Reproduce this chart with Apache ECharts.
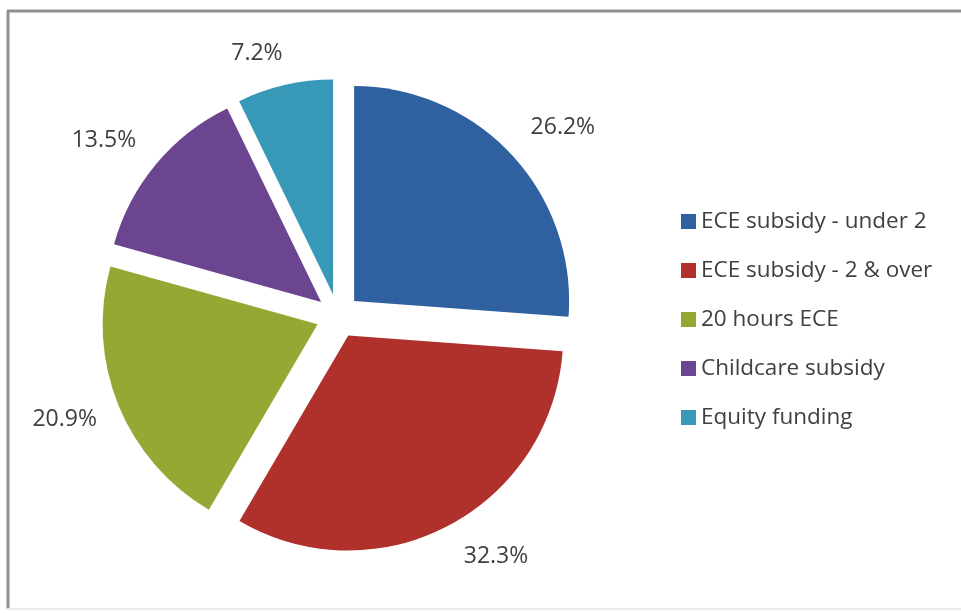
<!DOCTYPE html>
<html>
<head>
<meta charset="utf-8">
<script src="https://cdn.jsdelivr.net/npm/echarts@6/dist/echarts.min.js"></script>
<style>html,body{margin:0;padding:0;background:#fff;}#c{width:961px;height:613px;}</style>
</head>
<body>
<div id="c"></div>
<script>
var categories = ['ECE subsidy - under 2', 'ECE subsidy - 2 & over', '20 hours ECE', 'Childcare subsidy', 'Equity funding'];
var values = [26.2, 32.3, 20.9, 13.5, 7.2];
var colors = ['#2f60a0', '#b0302c', '#93a934', '#6b4590', '#3798b8'];
// small per-label nudges (styling) to mimic the original label placement
var labelNudge = [[12, 9], [23, -17], [-4, -6], [-11, 11], [-16, 21]];

var chart = echarts.init(document.getElementById('c'), null, {renderer: 'canvas'});
var mainData = categories.map(function (n, i) {
  return {name: n, value: values[i], selected: true};
});
var labelData = categories.map(function (n, i) {
  return {name: n, value: values[i]};
});
var FONT = '"Open Sans", sans-serif';
chart.setOption({
  animation: false,
  backgroundColor: '#ffffff',
  color: colors,
  graphic: [
    {type: 'line', shape: {x1: 8, y1: 11, x2: 8, y2: 609}, style: {stroke: '#8f8f8f', lineWidth: 3}},
    {type: 'line', shape: {x1: 7, y1: 11, x2: 961, y2: 11}, style: {stroke: '#8f8f8f', lineWidth: 3}},
    {type: 'line', shape: {x1: 7, y1: 609, x2: 961, y2: 609}, style: {stroke: '#ececec', lineWidth: 2}}
  ],
  legend: {
    orient: 'vertical',
    left: 681,
    top: 210,
    padding: 0,
    data: categories,
    itemWidth: 15,
    itemHeight: 15,
    itemGap: 26,
    icon: 'rect',
    selectedMode: false,
    textStyle: {fontFamily: FONT, fontSize: 22.5, color: '#404040', lineHeight: 20}
  },
  series: [
    {
      type: 'pie',
      center: [338, 316],
      radius: [0, 215],
      startAngle: 90,
      clockwise: true,
      selectedMode: 'multiple',
      selectedOffset: 22,
      data: mainData,
      label: {show: false},
      labelLine: {show: false},
      itemStyle: {borderWidth: 0},
      emphasis: {disabled: true},
      select: {itemStyle: {borderWidth: 0}},
      silent: true
    },
    {
      type: 'pie',
      center: [338, 316],
      radius: [275, 300],
      startAngle: 90,
      clockwise: true,
      data: labelData,
      silent: true,
      emphasis: {disabled: true},
      itemStyle: {color: 'rgba(0,0,0,0)', opacity: 0},
      label: {
        show: true,
        position: 'inside',
        formatter: function (p) { return p.value.toFixed(1) + '%'; },
        fontFamily: FONT,
        fontSize: 23,
        color: '#404040',
        opacity: 1
      },
      labelLine: {show: false},
      labelLayout: function (p) {
        var n = labelNudge[p.dataIndex] || [0, 0];
        return {dx: n[0], dy: n[1]};
      }
    }
  ]
});
</script>
</body>
</html>
